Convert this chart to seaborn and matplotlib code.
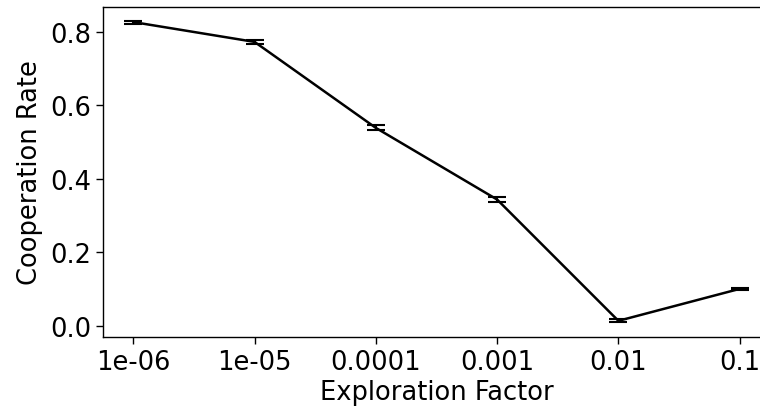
import matplotlib
matplotlib.use("Agg")
import matplotlib.pyplot as plt
import seaborn as sns
import numpy as np
import pandas as pd

factors = ["1e-06", "1e-05", "0.0001", "0.001", "0.01", "0.1"]
coop_rate = [0.827, 0.773, 0.539, 0.344, 0.014, 0.101]
coop_err = [0.004, 0.005, 0.007, 0.006, 0.004, 0.003]

sns.set_style("ticks")
plt.rcParams['font.family'] = ['DejaVu Sans']

fig = plt.figure(figsize=(7.6, 4.1), dpi=100)
ax = fig.add_axes([103/760, 1-338/410, (770-103)/760, (338-8)/410])

df = pd.DataFrame({"pos": np.arange(len(factors)), "rate": coop_rate})
sns.lineplot(data=df, x="pos", y="rate", ax=ax, color="black", linewidth=1.8)
ax.errorbar(df["pos"], coop_rate, yerr=coop_err, fmt="none", ecolor="black",
            elinewidth=1.5, capsize=6.5, capthick=1.5)

ax.set_xticks(np.arange(len(factors)))
ax.set_xticklabels(factors)
ax.set_xlim(-0.25, 5.25)
ax.set_ylim(-0.03, 0.868)
ax.set_yticks([0.0, 0.2, 0.4, 0.6, 0.8])
ax.tick_params(labelsize=18.5, length=5, width=1, colors="black", pad=3.5)
ax.set_xlabel("Exploration Factor", fontsize=18.5, color="black", labelpad=3)
ax.set_ylabel("Cooperation Rate", fontsize=18.5, color="black", labelpad=5)
for s in ax.spines.values():
    s.set_visible(True)
    s.set_color("black")
    s.set_linewidth(1.0)

fig.savefig("out.png", dpi=100)
